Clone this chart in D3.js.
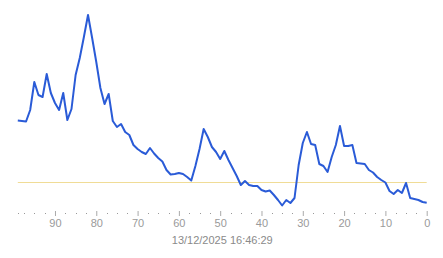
<!DOCTYPE html>
<html>
<head>
<meta charset="utf-8">
<script src="https://cdn.jsdelivr.net/npm/d3@7/dist/d3.min.js"></script>
<style>
  html, body { margin: 0; padding: 0; background: #fff; }
  svg { display: block; }
</style>
</head>
<body>
<svg id="chart" width="443" height="258"></svg>
<script>
// x: samples ago (99 -> 0), y: value (arbitrary units)
const ages = d3.range(99, -1, -1);
const values = [
  92.5, 92, 91.5, 103, 131, 118, 116, 139, 120, 110,
  103, 120, 93, 104, 138, 155, 176, 198, 175, 151,
  125, 109, 119, 92, 86, 89, 81, 78, 68, 64,
  61, 59, 65, 59.5, 55, 51.5, 43, 38.5, 39, 40,
  39, 36, 32.5, 47, 64, 84, 76, 66, 61, 54,
  62, 53, 45, 37, 28, 32, 28, 27, 27, 23,
  21.5, 22.5, 18, 13, 7.5, 13, 10, 15, 48, 70,
  81, 69, 68, 49, 47, 41, 56, 68, 87, 67,
  67, 68, 50, 49.5, 49, 43, 40.5, 36, 33, 30.5,
  22, 19, 23, 20, 30, 15, 14, 13, 11, 10.3
];
const thresholdValue = 30.7;
const majorTicks = [90, 80, 70, 60, 50, 40, 30, 20, 10, 0];
const minorTicks = d3.range(0, 99, 2.5).concat([99]).filter(v => v % 10 !== 0);
const timestampLabel = "13/12/2025 16:46:29";

const svg = d3.select("#chart");
const x = d3.scaleLinear().domain([99, 0]).range([17.8, 426.7]);
const y = d3.scaleLinear().domain([0, 200]).range([213, 13]);

// threshold line
svg.append("line")
  .attr("x1", x(99)).attr("x2", x(0))
  .attr("y1", Math.round(y(thresholdValue)) + 0.5)
  .attr("y2", Math.round(y(thresholdValue)) + 0.5)
  .attr("stroke", "#f0dc96").attr("stroke-width", 1);

// data line
const data = ages.map((a, i) => ({ a, v: values[i] }));
svg.append("path")
  .datum(data)
  .attr("fill", "none")
  .attr("stroke", "#2a5bd7")
  .attr("stroke-width", 2)
  .attr("stroke-linejoin", "round")
  .attr("d", d3.line().x(d => x(d.a)).y(d => y(d.v)));

// axis: minor dots
const axisG = svg.append("g").attr("transform", "translate(0,213)");
axisG.selectAll("rect.minor").data(minorTicks).enter().append("rect")
  .attr("class", "minor")
  .attr("x", d => Math.round(x(d)))
  .attr("y", 0).attr("width", 1).attr("height", 1)
  .attr("fill", "#999");

// major ticks + labels via d3 axis
const axis = d3.axisBottom(x).tickValues(majorTicks).tickSize(5).tickFormat(d3.format("d"));
const ag = svg.append("g").attr("transform", "translate(0,211)").call(axis);
ag.select(".domain").remove();
ag.selectAll(".tick line").attr("stroke", "#aaa");
ag.selectAll(".tick text")
  .attr("fill", "#9a9a9a")
  .attr("font-family", "Liberation Sans, Arial, sans-serif")
  .attr("font-size", 11)
  .attr("dy", "0.71em")
  .attr("y", 8);

// timestamp label
svg.append("text")
  .attr("x", (x(99) + x(0)) / 2)
  .attr("y", 244)
  .attr("text-anchor", "middle")
  .attr("fill", "#8a8a8a")
  .attr("font-family", "Liberation Sans, Arial, sans-serif")
  .attr("font-size", 11)
  .text(timestampLabel);
</script>
</body>
</html>
